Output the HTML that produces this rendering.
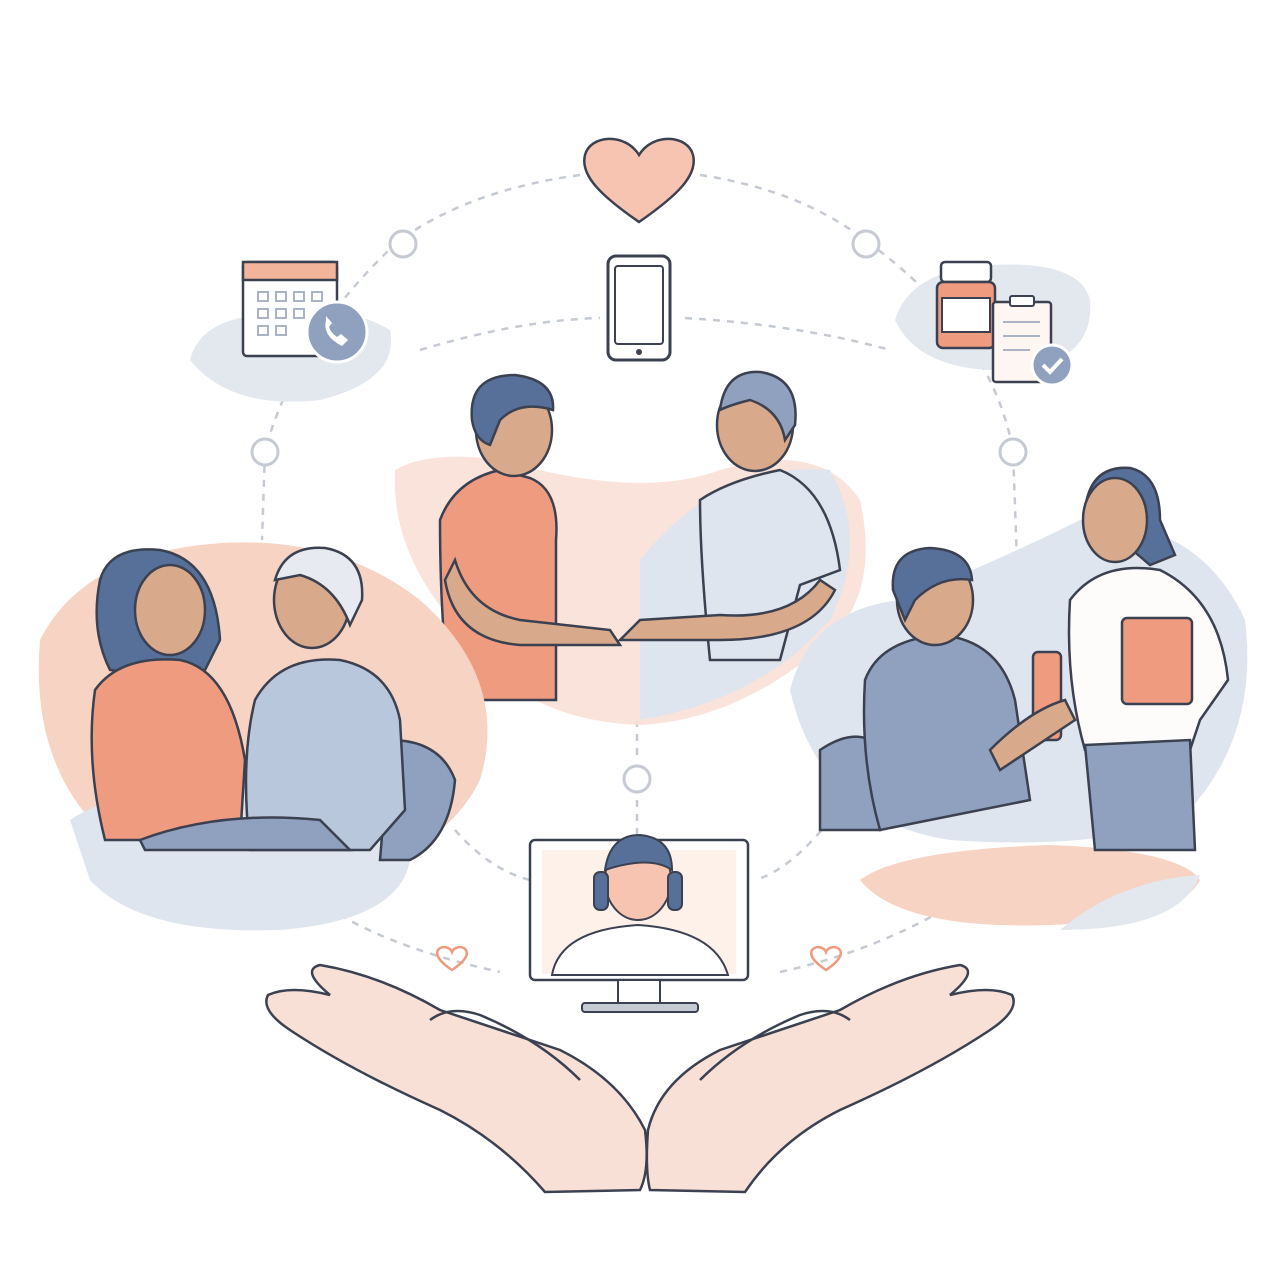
<!DOCTYPE html>
<html><head><meta charset="utf-8"><style>html,body{margin:0;padding:0;background:#fff}svg{display:block}</style></head>
<body>
<svg width="1280" height="1280" viewBox="0 0 1280 1280" xmlns="http://www.w3.org/2000/svg">
<g fill="none" stroke="#c5cad3" stroke-width="2.5" stroke-dasharray="7 7">
<path d="M580 175 Q470 190 400 240 Q300 330 265 450 L262 540"/>
<path d="M700 175 Q800 190 865 240 Q990 330 1013 450 L1018 590"/>
<path d="M420 350 Q520 320 600 318"/>
<path d="M685 318 Q800 325 890 350"/>
<path d="M455 830 Q490 870 530 880"/>
<path d="M830 820 Q790 870 755 880"/>
<path d="M340 915 Q400 950 500 972"/>
<path d="M780 972 Q880 950 960 900"/>
<path d="M637 720 L637 760 M637 800 L637 835"/>
</g>
<g fill="#fff" stroke="#c5cad3" stroke-width="3">
<circle cx="403" cy="244" r="13"/><circle cx="866" cy="244" r="13"/>
<circle cx="265" cy="452" r="13"/><circle cx="1013" cy="452" r="13"/><circle cx="637" cy="779" r="13"/>
</g>
<!-- heart -->
<path d="M639 222 C600 195 580 175 585 155 C590 135 625 132 639 155 C653 132 688 135 693 155 C698 175 678 195 639 222Z" fill="#f6c4b1" stroke="#3b4150" stroke-width="2.5"/>
<!-- phone -->
<rect x="608" y="256" width="62" height="104" rx="8" fill="#fff" stroke="#3b4150" stroke-width="3"/>
<rect x="615" y="266" width="48" height="78" rx="3" fill="#fff" stroke="#3b4150" stroke-width="2"/>
<circle cx="639" cy="352" r="3" fill="#3b4150"/>
<!-- calendar -->
<path d="M190 360 Q200 320 260 315 Q340 300 390 330 Q400 380 320 400 Q230 410 190 360Z" fill="#e3e7ee"/>
<rect x="243" y="262" width="94" height="94" rx="4" fill="#fff" stroke="#3b4150" stroke-width="2.5"/>
<rect x="243" y="262" width="94" height="18" fill="#f3b49c" stroke="#3b4150" stroke-width="2.5"/>
<g fill="none" stroke="#aab4c4" stroke-width="2">
<rect x="258" y="292" width="10" height="9"/><rect x="276" y="292" width="10" height="9"/><rect x="294" y="292" width="10" height="9"/><rect x="312" y="292" width="10" height="9"/>
<rect x="258" y="309" width="10" height="9"/><rect x="276" y="309" width="10" height="9"/><rect x="294" y="309" width="10" height="9"/>
<rect x="258" y="326" width="10" height="9"/><rect x="276" y="326" width="10" height="9"/></g>
<circle cx="337" cy="332" r="30" fill="#8fa1bf" stroke="#fff" stroke-width="3"/>
<path d="M326 320 q-4 16 16 26 l6-6 -7-6 -4 3 q-6-4-8-10 l3-4 -6-7z" fill="#fff"/>
<!-- pills & clipboard -->
<path d="M895 320 Q910 270 990 265 Q1080 260 1090 300 Q1095 360 1020 370 Q920 375 895 320Z" fill="#e3e7ee"/>
<rect x="941" y="262" width="50" height="20" rx="4" fill="#fff" stroke="#3b4150" stroke-width="2.5"/>
<rect x="937" y="282" width="58" height="66" rx="6" fill="#ee9b80" stroke="#3b4150" stroke-width="2.5"/>
<rect x="942" y="298" width="48" height="34" fill="#fff" stroke="#3b4150" stroke-width="2"/>
<rect x="993" y="302" width="58" height="80" rx="3" fill="#fdf6f2" stroke="#3b4150" stroke-width="2.5"/>
<rect x="1010" y="296" width="24" height="10" rx="2" fill="#fff" stroke="#3b4150" stroke-width="2"/>
<g stroke="#aab4c4" stroke-width="2"><line x1="1003" y1="322" x2="1040" y2="322"/><line x1="1003" y1="336" x2="1040" y2="336"/><line x1="1003" y1="350" x2="1030" y2="350"/></g>
<circle cx="1052" cy="365" r="20" fill="#8fa1bf" stroke="#fff" stroke-width="3"/>
<path d="M1043 365 l7 7 12-13" stroke="#fff" stroke-width="4" fill="none"/>
<!-- center scene -->
<path d="M395 470 Q430 450 500 460 Q640 500 720 470 Q820 440 860 500 Q880 590 830 640 Q740 720 640 725 Q520 720 470 640 Q390 560 395 470Z" fill="#f9e0d6" opacity=".9"/>
<path d="M640 560 Q720 460 830 470 Q870 540 830 620 Q760 700 640 720Z" fill="#dfe5ee"/>
<path d="M440 520 Q455 480 500 470 L530 478 Q560 490 556 540 L556 700 L450 700 Q440 620 440 520Z" fill="#ee9b80" stroke="#3b4150" stroke-width="2.5"/>
<path d="M700 500 Q730 480 780 470 Q830 490 840 570 L800 585 L780 660 L710 660 Q700 560 700 500Z" fill="#dfe5ee" stroke="#3b4150" stroke-width="2.5"/>
<path d="M455 560 Q470 610 520 620 L610 630 L620 645 L520 645 Q455 640 445 580Z" fill="#d8a98a" stroke="#3b4150" stroke-width="2.5"/>
<path d="M820 580 Q790 620 720 615 L640 620 L620 640 L720 640 Q810 640 835 590Z" fill="#d8a98a" stroke="#3b4150" stroke-width="2.5"/>
<ellipse cx="514" cy="430" rx="38" ry="46" fill="#d8a98a" stroke="#3b4150" stroke-width="2.5"/>
<path d="M472 420 Q468 375 515 375 Q555 380 553 410 Q520 400 500 420 L490 445 Q475 440 472 420Z" fill="#56709a" stroke="#3b4150" stroke-width="2.5"/>
<ellipse cx="755" cy="425" rx="38" ry="46" fill="#d8a98a" stroke="#3b4150" stroke-width="2.5"/>
<path d="M720 410 Q725 370 760 372 Q800 378 795 425 L785 440 Q780 410 750 400 Q730 405 720 410Z" fill="#8fa1bf" stroke="#3b4150" stroke-width="2.5"/>
<!-- left scene -->
<path d="M40 640 Q80 560 200 545 Q330 530 420 600 Q510 680 480 780 Q440 860 330 870 Q200 880 100 830 Q30 760 40 640Z" fill="#f7d3c3"/>
<path d="M70 820 Q130 780 260 790 Q380 800 410 860 Q400 920 280 930 Q140 935 90 880Z" fill="#dfe5ee"/>
<path d="M390 740 Q440 740 455 780 Q450 840 410 860 L380 860Z" fill="#8fa1bf" stroke="#3b4150" stroke-width="2.5"/>
<path d="M100 580 Q110 545 160 550 Q215 560 220 640 L200 680 L110 670 Q90 630 100 580Z" fill="#56709a" stroke="#3b4150" stroke-width="2.5"/>
<path d="M95 690 Q120 655 180 660 Q230 670 245 760 L240 840 L105 840 Q85 760 95 690Z" fill="#ee9b80" stroke="#3b4150" stroke-width="2.5"/>
<ellipse cx="170" cy="610" rx="35" ry="45" fill="#d8a98a" stroke="#3b4150" stroke-width="2.5"/>
<path d="M255 700 Q280 655 340 660 Q390 670 400 720 L405 810 L370 850 L250 850 Q240 760 255 700Z" fill="#b9c7dc" stroke="#3b4150" stroke-width="2.5"/>
<ellipse cx="312" cy="600" rx="38" ry="48" fill="#d8a98a" stroke="#3b4150" stroke-width="2.5"/>
<path d="M275 580 Q285 545 325 548 Q365 555 362 600 L350 625 Q335 585 300 575Z" fill="#e7ebf1" stroke="#3b4150" stroke-width="2.5"/>
<path d="M140 840 Q220 810 320 820 L350 850 L145 850Z" fill="#8fa1bf" stroke="#3b4150" stroke-width="2.5"/>
<!-- right scene -->
<path d="M790 690 Q810 610 900 600 Q1000 560 1080 520 Q1200 520 1245 620 Q1260 740 1180 820 Q1090 850 950 840 Q820 820 790 690Z" fill="#dfe5ee"/>
<path d="M860 880 Q900 850 1050 845 Q1180 850 1200 880 Q1180 920 1050 925 Q900 930 860 880Z" fill="#f7d3c3"/>
<path d="M1060 930 Q1120 880 1200 875 Q1180 930 1060 930Z" fill="#e3e7ee"/>
<path d="M820 750 Q850 730 870 740 L880 830 L820 830Z" fill="#8fa1bf" stroke="#3b4150" stroke-width="2.5"/>
<path d="M865 680 Q880 640 940 635 Q1000 640 1015 700 L1030 800 L880 830 Q860 760 865 680Z" fill="#8fa1bf" stroke="#3b4150" stroke-width="2.5"/>
<ellipse cx="935" cy="600" rx="38" ry="45" fill="#d8a98a" stroke="#3b4150" stroke-width="2.5"/>
<path d="M893 590 Q890 550 930 548 Q970 550 972 580 Q940 575 915 600 L905 620Z" fill="#56709a" stroke="#3b4150" stroke-width="2.5"/>
<path d="M1070 600 Q1100 560 1160 570 Q1220 600 1228 680 L1200 720 L1190 750 L1085 750 Q1065 680 1070 600Z" fill="#fdfcfb" stroke="#3b4150" stroke-width="2.5"/>
<path d="M1085 745 L1190 740 L1195 850 L1095 850Z" fill="#8fa1bf" stroke="#3b4150" stroke-width="2.5"/>
<path d="M1085 510 Q1090 465 1130 468 Q1160 475 1160 520 L1175 555 L1150 565 Z" fill="#56709a" stroke="#3b4150" stroke-width="2.5"/>
<ellipse cx="1115" cy="520" rx="32" ry="42" fill="#d8a98a" stroke="#3b4150" stroke-width="2.5"/>
<rect x="1122" y="618" width="70" height="86" rx="5" fill="#ee9b80" stroke="#3b4150" stroke-width="2.5"/>
<rect x="1033" y="652" width="28" height="88" rx="5" fill="#ee9b80" stroke="#3b4150" stroke-width="2.5"/>
<path d="M990 750 Q1030 710 1065 700 L1075 720 L1000 770Z" fill="#d8a98a" stroke="#3b4150" stroke-width="2.5"/>
<!-- monitor -->
<rect x="530" y="840" width="218" height="140" rx="5" fill="#fff" stroke="#3b4150" stroke-width="2.5"/>
<rect x="542" y="850" width="194" height="124" fill="#fdf1ea"/>
<path d="M552 975 Q560 930 638 925 Q715 930 728 975Z" fill="#fff" stroke="#3b4150" stroke-width="2"/>
<ellipse cx="638" cy="880" rx="33" ry="40" fill="#f6c4b1" stroke="#3b4150" stroke-width="2"/>
<path d="M605 870 Q610 835 640 835 Q672 838 672 870 Q650 855 605 870Z" fill="#56709a" stroke="#3b4150" stroke-width="2"/>
<rect x="594" y="872" width="14" height="38" rx="6" fill="#56709a" stroke="#3b4150" stroke-width="2"/>
<rect x="668" y="872" width="14" height="38" rx="6" fill="#56709a" stroke="#3b4150" stroke-width="2"/>
<rect x="618" y="980" width="42" height="24" fill="#fff" stroke="#3b4150" stroke-width="2"/>
<rect x="582" y="1003" width="116" height="9" rx="3" fill="#c5cad3" stroke="#3b4150" stroke-width="2"/>
<!-- small hearts -->
<path d="M452 970 C440 962 435 955 438 950 C442 945 450 947 452 952 C454 947 462 945 466 950 C469 955 464 962 452 970Z" fill="none" stroke="#ee9b80" stroke-width="2.5"/>
<path d="M826 970 C814 962 809 955 812 950 C816 945 824 947 826 952 C828 947 836 945 840 950 C843 955 838 962 826 970Z" fill="none" stroke="#ee9b80" stroke-width="2.5"/>
<!-- hands -->
<path d="M268 995 Q290 985 330 995 Q300 970 320 965 Q380 975 440 1010 Q500 1030 560 1050 Q620 1080 645 1130 Q650 1170 640 1190 L545 1192 Q500 1140 440 1110 Q350 1070 290 1030 Q260 1010 268 995Z" fill="#f9e0d6" stroke="#3b4150" stroke-width="2.5"/>
<path d="M1012 995 Q990 985 950 995 Q980 970 960 965 Q900 975 840 1010 Q780 1030 720 1050 Q660 1080 648 1130 Q645 1170 650 1190 L745 1192 Q780 1140 840 1110 Q930 1070 990 1030 Q1020 1010 1012 995Z" fill="#f9e0d6" stroke="#3b4150" stroke-width="2.5"/>
<path d="M430 1020 Q450 1005 480 1015 Q540 1040 580 1080" fill="none" stroke="#3b4150" stroke-width="2.5"/>
<path d="M850 1020 Q830 1005 800 1015 Q740 1040 700 1080" fill="none" stroke="#3b4150" stroke-width="2.5"/>
</svg>
</body></html>
